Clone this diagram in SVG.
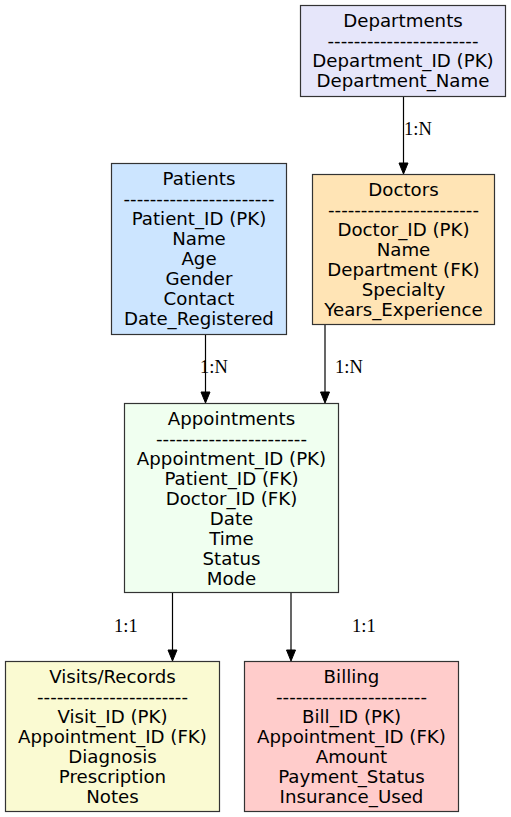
<svg xmlns="http://www.w3.org/2000/svg" width="511" height="817" viewBox="0 0 511 817">
<style>
.box{stroke:#333;stroke-width:1.2}
.nt{font-family:"DejaVu Sans",sans-serif;font-size:18.2px;text-anchor:middle;fill:#000}
.el{font-family:"Liberation Serif","Times New Roman",serif;font-size:18.5px;fill:#000}
.edge{stroke:#000;stroke-width:1.2;fill:none}
.ah{fill:#000;stroke:#000;stroke-width:1}
</style>
<rect width="511" height="817" fill="#fff"/>
<g id="connectors">
<g id="e_dept_doc"><line class="edge" x1="403.5" y1="96" x2="403.5" y2="163"/><polygon class="ah" points="399,163 408,163 403.5,174"/><text class="el" x="404" y="135">1:N</text></g>
<g id="e_pat_app"><line class="edge" x1="205.5" y1="334" x2="205.5" y2="392"/><polygon class="ah" points="201,392 210,392 205.5,403"/><text class="el" x="200" y="373">1:N</text></g>
<g id="e_doc_app"><line class="edge" x1="325" y1="324" x2="325" y2="392"/><polygon class="ah" points="320.5,392 329.5,392 325,403"/><text class="el" x="335" y="373">1:N</text></g>
<g id="e_app_vis"><line class="edge" x1="172.5" y1="593" x2="172.5" y2="650"/><polygon class="ah" points="168,650 177,650 172.5,661"/><text class="el" x="114" y="632">1:1</text></g>
<g id="e_app_bill"><line class="edge" x1="291" y1="593" x2="291" y2="650"/><polygon class="ah" points="286.5,650 295.5,650 291,661"/><text class="el" x="352" y="632">1:1</text></g>
</g>
<g id="Departments"><rect class="box" x="300.5" y="5.5" width="205" height="91" fill="#e6e6fa"/>
<text class="nt" x="403" y="27">Departments</text><text class="nt" x="403" y="47">-----------------------</text><text class="nt" x="403" y="67">Department_ID (PK)</text><text class="nt" x="403" y="87">Department_Name</text></g>
<g id="Patients"><rect class="box" x="111.5" y="163.5" width="175" height="171" fill="#cce5ff"/>
<text class="nt" x="199" y="185">Patients</text><text class="nt" x="199" y="205">-----------------------</text><text class="nt" x="199" y="225">Patient_ID (PK)</text><text class="nt" x="199" y="245">Name</text><text class="nt" x="199" y="265">Age</text><text class="nt" x="199" y="285">Gender</text><text class="nt" x="199" y="305">Contact</text><text class="nt" x="199" y="325">Date_Registered</text></g>
<g id="Doctors"><rect class="box" x="312.5" y="174.5" width="182" height="150" fill="#ffe4b5"/>
<text class="nt" x="403.5" y="196">Doctors</text><text class="nt" x="403.5" y="216">-----------------------</text><text class="nt" x="403.5" y="236">Doctor_ID (PK)</text><text class="nt" x="403.5" y="256">Name</text><text class="nt" x="403.5" y="276">Department (FK)</text><text class="nt" x="403.5" y="296">Specialty</text><text class="nt" x="403.5" y="316">Years_Experience</text></g>
<g id="Appointments"><rect class="box" x="124.5" y="403.5" width="214" height="189" fill="#f0fff0"/>
<text class="nt" x="231.5" y="425">Appointments</text><text class="nt" x="231.5" y="445">-----------------------</text><text class="nt" x="231.5" y="465">Appointment_ID (PK)</text><text class="nt" x="231.5" y="485">Patient_ID (FK)</text><text class="nt" x="231.5" y="505">Doctor_ID (FK)</text><text class="nt" x="231.5" y="525">Date</text><text class="nt" x="231.5" y="545">Time</text><text class="nt" x="231.5" y="565">Status</text><text class="nt" x="231.5" y="585">Mode</text></g>
<g id="Visits"><rect class="box" x="5.5" y="661.5" width="214" height="150" fill="#fafad2"/>
<text class="nt" x="112.5" y="683">Visits/Records</text><text class="nt" x="112.5" y="703">-----------------------</text><text class="nt" x="112.5" y="723">Visit_ID (PK)</text><text class="nt" x="112.5" y="743">Appointment_ID (FK)</text><text class="nt" x="112.5" y="763">Diagnosis</text><text class="nt" x="112.5" y="783">Prescription</text><text class="nt" x="112.5" y="803">Notes</text></g>
<g id="Billing"><rect class="box" x="244.5" y="661.5" width="214" height="150" fill="#ffcccb"/>
<text class="nt" x="351.5" y="683">Billing</text><text class="nt" x="351.5" y="703">-----------------------</text><text class="nt" x="351.5" y="723">Bill_ID (PK)</text><text class="nt" x="351.5" y="743">Appointment_ID (FK)</text><text class="nt" x="351.5" y="763">Amount</text><text class="nt" x="351.5" y="783">Payment_Status</text><text class="nt" x="351.5" y="803">Insurance_Used</text></g>
</svg>
